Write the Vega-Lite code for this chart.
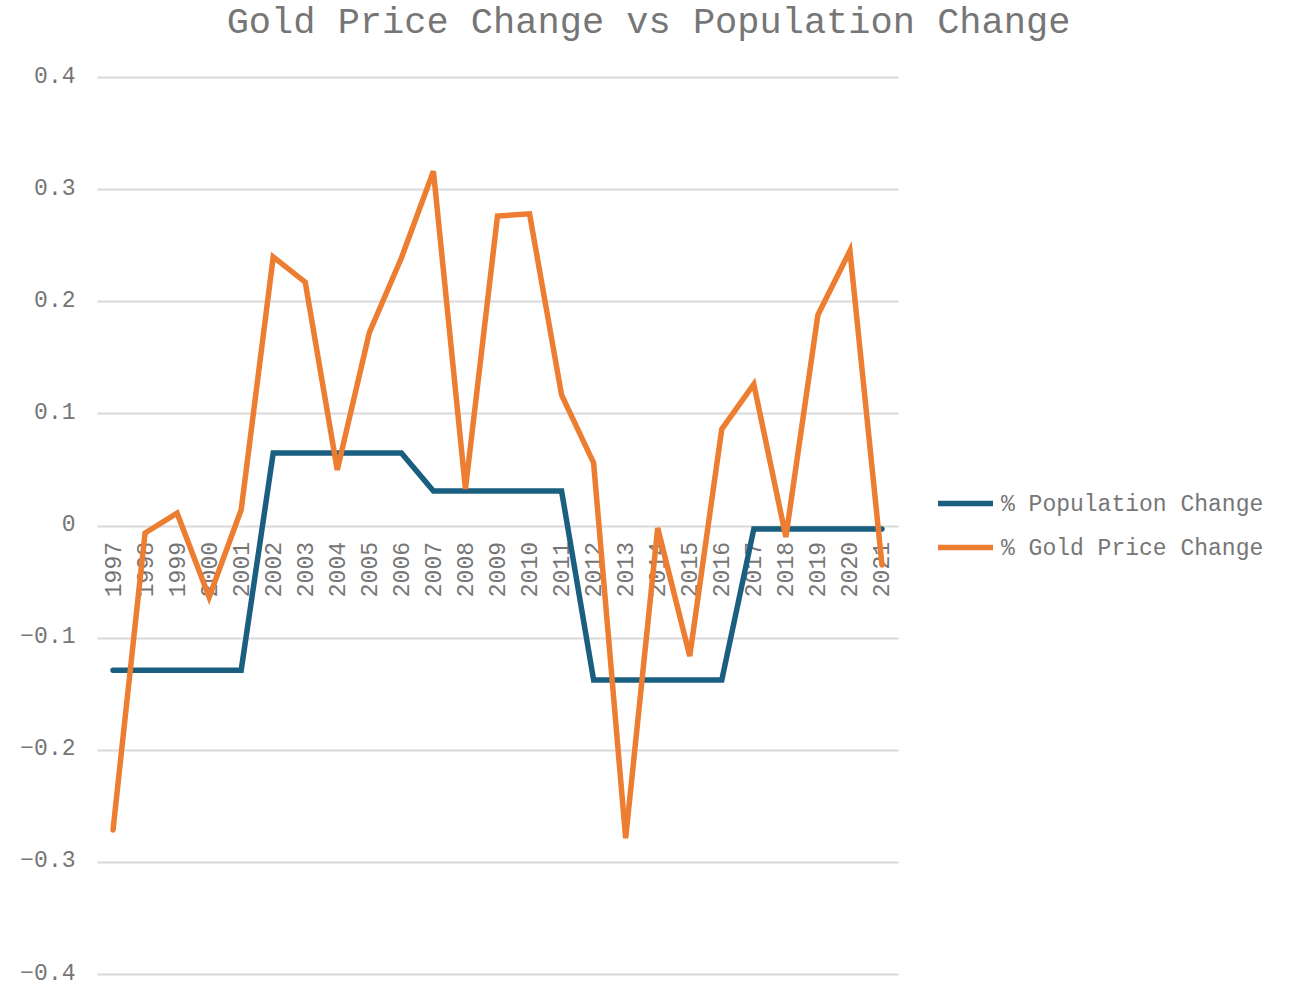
{
  "$schema": "https://vega.github.io/schema/vega-lite/v6.json",
  "autosize": {"type": "none"},
  "width": 801,
  "height": 897,
  "padding": {"left": 97, "top": 77, "right": 399, "bottom": 11},
  "background": "white",
  "title": {
    "text": "Gold Price Change vs Population Change",
    "font": "Liberation Mono",
    "fontSize": 37,
    "fontWeight": "normal",
    "color": "#767676",
    "anchor": "middle",
    "dx": 151,
    "offset": 23
  },
  "config": {
    "view": {"stroke": null},
    "axis": {"labelFont": "Liberation Mono", "labelFontSize": 23, "labelColor": "#767676", "titleFont": "Liberation Mono"},
    "legend": {"labelFont": "Liberation Mono", "labelFontSize": 23, "labelColor": "#767676"}
  },
  "data": {
    "values": [
      {"year": "1997", "series": "% Population Change", "value": -0.129},
      {"year": "1998", "series": "% Population Change", "value": -0.129},
      {"year": "1999", "series": "% Population Change", "value": -0.129},
      {"year": "2000", "series": "% Population Change", "value": -0.129},
      {"year": "2001", "series": "% Population Change", "value": -0.129},
      {"year": "2002", "series": "% Population Change", "value": 0.0647},
      {"year": "2003", "series": "% Population Change", "value": 0.0647},
      {"year": "2004", "series": "% Population Change", "value": 0.0647},
      {"year": "2005", "series": "% Population Change", "value": 0.0647},
      {"year": "2006", "series": "% Population Change", "value": 0.0647},
      {"year": "2007", "series": "% Population Change", "value": 0.0308},
      {"year": "2008", "series": "% Population Change", "value": 0.0308},
      {"year": "2009", "series": "% Population Change", "value": 0.0308},
      {"year": "2010", "series": "% Population Change", "value": 0.0308},
      {"year": "2011", "series": "% Population Change", "value": 0.0308},
      {"year": "2012", "series": "% Population Change", "value": -0.1378},
      {"year": "2013", "series": "% Population Change", "value": -0.1378},
      {"year": "2014", "series": "% Population Change", "value": -0.1378},
      {"year": "2015", "series": "% Population Change", "value": -0.1378},
      {"year": "2016", "series": "% Population Change", "value": -0.1378},
      {"year": "2017", "series": "% Population Change", "value": -0.0031},
      {"year": "2018", "series": "% Population Change", "value": -0.0031},
      {"year": "2019", "series": "% Population Change", "value": -0.0031},
      {"year": "2020", "series": "% Population Change", "value": -0.0031},
      {"year": "2021", "series": "% Population Change", "value": -0.0031},
      {"year": "1997", "series": "% Gold Price Change", "value": -0.2716},
      {"year": "1998", "series": "% Gold Price Change", "value": -0.0067},
      {"year": "1999", "series": "% Gold Price Change", "value": 0.011},
      {"year": "2000", "series": "% Gold Price Change", "value": -0.064},
      {"year": "2001", "series": "% Gold Price Change", "value": 0.014},
      {"year": "2002", "series": "% Gold Price Change", "value": 0.2395},
      {"year": "2003", "series": "% Gold Price Change", "value": 0.217},
      {"year": "2004", "series": "% Gold Price Change", "value": 0.0495},
      {"year": "2005", "series": "% Gold Price Change", "value": 0.172},
      {"year": "2006", "series": "% Gold Price Change", "value": 0.2386},
      {"year": "2007", "series": "% Gold Price Change", "value": 0.316},
      {"year": "2008", "series": "% Gold Price Change", "value": 0.0326},
      {"year": "2009", "series": "% Gold Price Change", "value": 0.276},
      {"year": "2010", "series": "% Gold Price Change", "value": 0.278},
      {"year": "2011", "series": "% Gold Price Change", "value": 0.1164},
      {"year": "2012", "series": "% Gold Price Change", "value": 0.0558},
      {"year": "2013", "series": "% Gold Price Change", "value": -0.279},
      {"year": "2014", "series": "% Gold Price Change", "value": -0.0022},
      {"year": "2015", "series": "% Gold Price Change", "value": -0.1164},
      {"year": "2016", "series": "% Gold Price Change", "value": 0.086},
      {"year": "2017", "series": "% Gold Price Change", "value": 0.126},
      {"year": "2018", "series": "% Gold Price Change", "value": -0.0103},
      {"year": "2019", "series": "% Gold Price Change", "value": 0.1878},
      {"year": "2020", "series": "% Gold Price Change", "value": 0.245},
      {"year": "2021", "series": "% Gold Price Change", "value": -0.0352}
    ]
  },
  "mark": {"type": "line", "strokeWidth": 5.5, "strokeCap": "round", "strokeJoin": "miter"},
  "encoding": {
    "x": {
      "field": "year",
      "type": "ordinal",
      "scale": {"type": "point", "padding": 0.5},
      "axis": {
        "title": null,
        "domain": false,
        "ticks": false,
        "grid": false,
        "labelAngle": -90,
        "labelPadding": 16,
        "offset": -448.5
      }
    },
    "y": {
      "field": "value",
      "type": "quantitative",
      "scale": {"domain": [-0.4, 0.4], "nice": false, "zero": false},
      "axis": {
        "title": null,
        "values": [-0.4, -0.3, -0.2, -0.1, 0, 0.1, 0.2, 0.3, 0.4],
        "format": "~g",
        "domain": false,
        "ticks": false,
        "grid": true,
        "gridColor": "#d9d9d9",
        "gridWidth": 2,
        "labelPadding": 22,
        "labelOffset": -2
      }
    },
    "color": {
      "field": "series",
      "type": "nominal",
      "scale": {"domain": ["% Population Change", "% Gold Price Change"], "range": ["#1a5e80", "#ed7d31"]},
      "legend": {
        "title": null,
        "orient": "none",
        "legendX": 838,
        "legendY": 396,
        "symbolType": "stroke",
        "symbolSize": 3025,
        "symbolStrokeWidth": 5.5,
        "labelOffset": 5,
        "labelLimit": 400,
        "rowPadding": 1
      }
    }
  }
}
